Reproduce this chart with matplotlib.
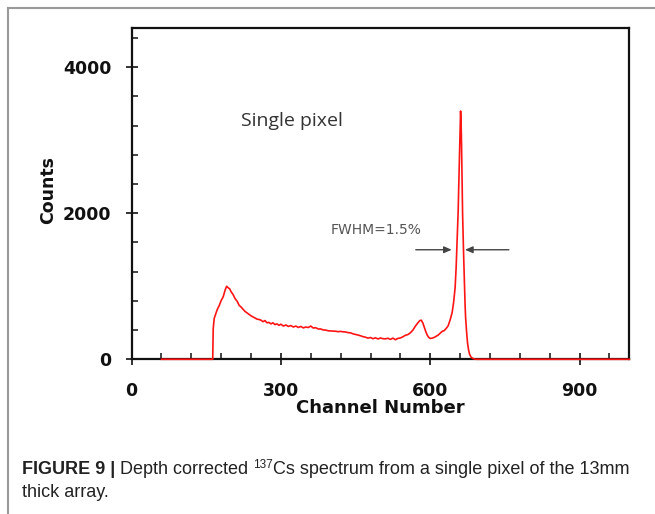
import numpy as np
import matplotlib.pyplot as plt
from matplotlib.ticker import MultipleLocator
from matplotlib.lines import Line2D

# spectrum (channel, counts)
channel = [60, 163, 164, 166, 168, 172, 176, 180, 184, 188, 191, 194, 197, 200,
           204, 208, 212, 216, 220, 224, 228, 232, 236, 240, 244, 248, 252, 256,
           260, 264, 268, 272, 276, 280, 284, 288, 292, 296, 300, 305, 310, 315,
           320, 325, 330, 335, 340, 345, 350, 355, 360, 365, 370, 375, 380, 385,
           390, 395, 400, 405, 410, 415, 420, 425, 430, 435, 440, 445, 450, 455,
           460, 465, 470, 475, 480, 485, 490, 495, 500, 505, 510, 515, 520, 525,
           530, 535, 540, 545, 550, 555, 560, 565, 570, 575, 579, 582, 585, 588,
           591, 594, 597, 600, 604, 608, 612, 616, 620, 624, 628, 632, 636, 640,
           644, 647, 650, 652, 654, 656, 657, 658, 659, 660, 661, 662, 663, 664,
           665, 666, 667, 668, 669, 670, 671, 673, 675, 677, 679, 682, 686, 692,
           1000]
counts = [0, 0, 420, 560, 600, 680, 735, 805, 855, 950, 1000, 980, 965, 925,
          885, 830, 795, 740, 715, 685, 655, 635, 615, 595, 580, 565, 550, 545,
          535, 515, 530, 500, 505, 485, 500, 475, 485, 465, 480, 455, 470, 450,
          462, 442, 455, 436, 450, 430, 442, 435, 455, 428, 432, 415, 415, 402,
          400, 390, 388, 386, 384, 378, 382, 376, 374, 365, 362, 348, 340, 332,
          322, 310, 302, 290, 298, 282, 294, 278, 292, 282, 280, 288, 272, 290,
          268, 286, 292, 308, 328, 338, 362, 398, 452, 498, 530, 535, 500, 440,
          380, 330, 300, 285, 290, 300, 315, 332, 358, 382, 392, 422, 458, 540,
          640, 780, 980, 1250, 1620, 2000, 2300, 2620, 2850, 3100, 3400, 3250, 2900, 2450,
          2000, 1700, 1450, 1200, 980, 750, 580, 380, 220, 130, 70, 30, 10, 0,
          0]

x_ticks = [0, 300, 600, 900]
y_ticks = [0, 2000, 4000]

fig = plt.figure(figsize=(6.55, 5.14), dpi=100)
ax = fig.add_axes([0.2009, 0.301, 0.7599, 0.6436])

ax.plot(channel, counts, color='#ff1414', lw=1.2, zorder=5, clip_on=False)

ax.set_xlim(0, 1000)
ax.set_ylim(0, 4530)
ax.set_xticks(x_ticks)
ax.set_yticks(y_ticks)
ax.xaxis.set_minor_locator(MultipleLocator(60))
ax.yaxis.set_minor_locator(MultipleLocator(400))

for sp in ax.spines.values():
    sp.set_linewidth(1.6)
    sp.set_color('#111111')

ax.tick_params(which='major', direction='inout', length=9, width=1.2, color='#111111')
ax.tick_params(which='minor', direction='in', length=4, width=1.1, color='#111111')
ax.tick_params(axis='x', which='major', pad=12)
ax.tick_params(axis='y', which='major', pad=10)
for lab in ax.get_xticklabels() + ax.get_yticklabels():
    lab.set_fontsize(12.5)
    lab.set_fontweight('bold')
    lab.set_color('#111111')

ax.set_xlabel('Channel Number', fontsize=13, fontweight='bold', color='#111111')
ax.xaxis.set_label_coords(0.5, -0.121)
ax.set_ylabel('Counts', fontsize=12.5, fontweight='bold', color='#111111')
ax.yaxis.set_label_coords(-0.150, 0.512)

ax.text(220, 3258, 'Single pixel', fontsize=14, family='Open Sans',
        color='#333333', va='center', ha='left')
ax.text(399, 1771, 'FWHM=1.5%', fontsize=10, color='#555555',
        va='center', ha='left')

arrow = dict(arrowstyle='-|>,head_length=0.45,head_width=0.2', color='#444444',
             lw=1.0, shrinkA=0, shrinkB=0)
ax.annotate('', xy=(643, 1500), xytext=(571, 1500), arrowprops=arrow)
ax.annotate('', xy=(670, 1500), xytext=(758, 1500), arrowprops=arrow)

# page frame (top and left edges only)
fig.add_artist(Line2D([0.0122, 1.0], [0.9854, 0.9854], color='#999999', lw=1.5))
fig.add_artist(Line2D([0.0122, 0.0122], [0.0, 0.9854], color='#999999', lw=1.5))

# caption, built piece by piece
renderer = fig.canvas.get_renderer()
W, H = fig.bbox.width, fig.bbox.height
cap = dict(family='Liberation Sans', color='#222222', va='baseline', ha='left')
x0 = 21.5 / W
y1 = (514 - 474) / H
pieces = [('FIGURE 9 | ', 'bold', 13, 0),
          ('Depth corrected ', 'normal', 13, 0),
          ('137', 'normal', 8.5, 6.5),
          ('Cs spectrum from a single pixel of the 13mm', 'normal', 13, 0)]
xc = x0
for txt, wt, fs, rise in pieces:
    t = fig.text(xc, y1 + rise / H, txt, fontsize=fs, fontweight=wt, **cap)
    xc = t.get_window_extent(renderer).x1 / W
fig.text(x0, (514 - 496.7) / H, 'thick array.', fontsize=13, **cap)

fig.savefig('out.png', dpi=100)
